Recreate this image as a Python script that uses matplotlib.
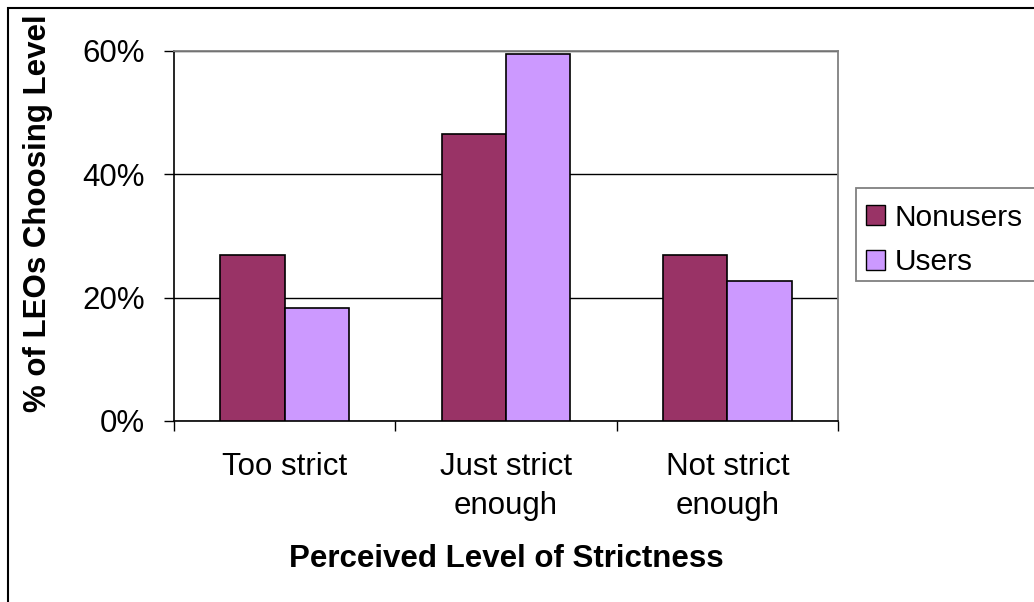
import matplotlib.pyplot as plt
import numpy as np
from matplotlib.patches import Rectangle, Patch

plt.rcParams['font.family'] = ['Liberation Sans', 'DejaVu Sans']

# data
categories = ['Too strict', 'Just strict\nenough', 'Not strict\nenough']
nonusers = [26.9, 46.6, 26.9]
users = [18.3, 59.5, 22.7]
series_names = ['Nonusers', 'Users']
yticks = [0, 20, 40, 60]

W, H = 1034, 602
fig = plt.figure(figsize=(W / 100, H / 100), dpi=100)
ax = fig.add_axes([174 / W, 1 - 421 / H, (838 - 174) / W, (421 - 51) / H])

x = np.arange(len(categories))
bw = 0.29
ax.bar(x - bw / 2, nonusers, bw, color='#993366', edgecolor='black', linewidth=1.2, zorder=3)
ax.bar(x + bw / 2, users, bw, color='#CC99FF', edgecolor='black', linewidth=1.2, zorder=3)

ax.set_xlim(-0.5, 2.5)
ax.set_ylim(0, 60)
ax.set_yticks(yticks)
ax.set_yticklabels([f'{v}%' for v in yticks])
ax.yaxis.grid(True, color='black', linewidth=1)
ax.set_axisbelow(True)

# category ticks sit between groups, labels at centers
ax.set_xticks([-0.5, 0.5, 1.5, 2.5])
ax.set_xticklabels([])
ax.set_xticks(x, minor=True)
ax.set_xticklabels(categories, minor=True, fontsize=22.5, linespacing=1.42)
ax.tick_params(axis='x', which='minor', length=0, pad=22)
ax.tick_params(axis='x', which='major', length=7, width=1, direction='out')
ax.tick_params(axis='y', length=7, width=1, direction='out', labelsize=22.5, pad=14)

for s in ['top', 'right']:
    ax.spines[s].set_color('#808080')
    ax.spines[s].set_linewidth(1.3)
for s in ['left', 'bottom']:
    ax.spines[s].set_color('black')
    ax.spines[s].set_linewidth(1.2)

fig.text(506 / W, 1 - 559 / H, 'Perceived Level of Strictness', ha='center', va='center',
         fontsize=22.5, fontweight='bold')
fig.text(38 / W, 1 - 213 / H, '% of LEOs Choosing Level', ha='center', va='center',
         rotation=90, fontsize=22.5, fontweight='bold')

# legend box (runs off the right edge like the reference)
fig.patches.append(Rectangle((856 / W, 1 - 281 / H), 200 / W, 93 / H, transform=fig.transFigure,
                             facecolor='white', edgecolor='#808080', linewidth=1.3))
handles = [Patch(facecolor='#993366', edgecolor='black'), Patch(facecolor='#CC99FF', edgecolor='black')]
fig.legend(handles, series_names, loc='upper left', bbox_to_anchor=(848 / W, 1 - 186 / H),
           frameon=False, fontsize=21.5, handlelength=0.65, handleheight=0.65,
           handletextpad=0.3, labelspacing=0.55, borderpad=0.1)

# outer chart border
fig.patches.append(Rectangle((7.5 / W, -0.1), 1.2, 1 - 7.5 / H + 0.1, transform=fig.transFigure,
                             facecolor='none', edgecolor='black', linewidth=1.5))

fig.savefig('out.png', dpi=100)
